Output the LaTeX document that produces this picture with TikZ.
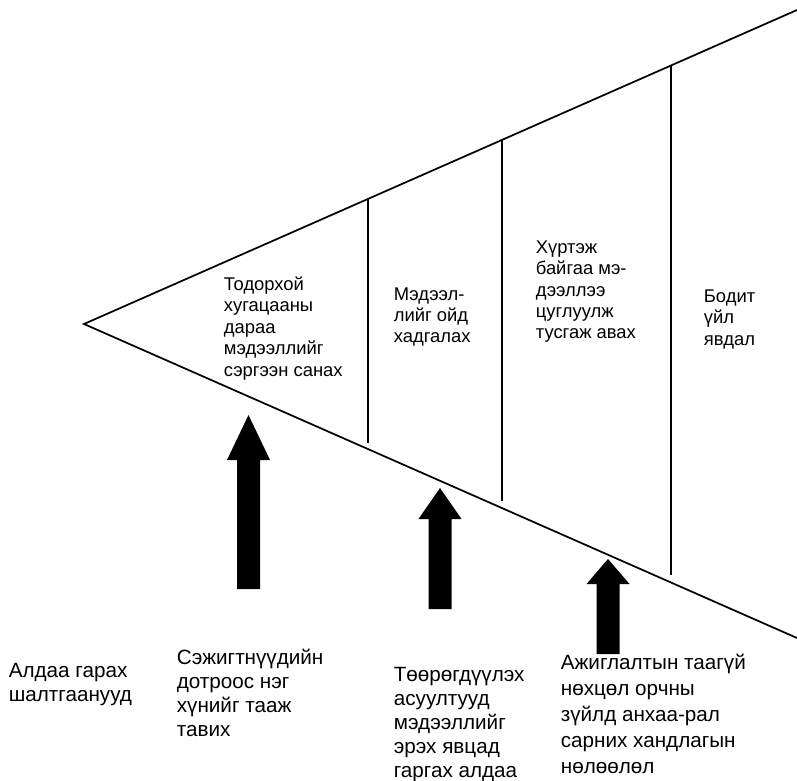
\documentclass[tikz,border=0pt]{standalone}
\usepackage{fontspec}
\setmainfont{Liberation Sans}
\usetikzlibrary{calc}
\tikzset{>=latex,
    stagetext/.style={anchor=base west,inner sep=0pt,align=left,font=\fontsize{13.8}{16}\selectfont},
    causetext/.style={anchor=base west,inner sep=0pt,align=left,font=\fontsize{15.5}{18}\selectfont}}
% block arrow: centre x, tip y, head base y, foot y
\newcommand\blockarrow[4]{
    \fill (#1-21.5,#3) -- (#1,#2) -- (#1+21.5,#3) -- (#1+11.5,#3) --
        (#1+11.5,#4) -- (#1-11.5,#4) -- (#1-11.5,#3) -- cycle;
}
\begin{document}
\begin{tikzpicture}[x=0.75pt,y=-0.75pt,line width=1.3pt]
            \useasboundingbox (0,0) rectangle (797,781);
            \coordinate (apex) at (84,324);
            \coordinate (top)  at (797,10);
            \coordinate (bot)  at (797,638);
            \draw (top) -- (apex) -- (bot);
            % dividers
            \draw (368,199) -- (368,443);
            \draw (502,140) -- (502,501);
            \draw (671,65.5) -- (671,575);
            \blockarrow{248.5}{415}{460}{589}
            \blockarrow{440}{488}{519}{609}
            \blockarrow{608}{559}{584}{654}
            % base = last line
            \node[stagetext] (recall)  at (223,376) {Тодорхой\\хугацааны\\дараа\\мэдээллийг\\сэргээн санах};
            \node[stagetext] (store)   at (393,343) {Мэдээл-\\лийг ойд\\хадгалах};
            \node[stagetext] (collect) at (535,339) {Хүртэж\\байгаа мэ-\\дээллээ\\цуглуулж\\тусгаж авах};
            \node[stagetext] (event)   at (703,345) {Бодит\\үйл\\явдал};
            \node[causetext] (causes)  at (8,701)   {Алдаа гарах\\шалтгаанууд};
            \node[causetext] (guess)   at (176,736) {Сэжигтнүүдийн\\дотроос нэг\\хүнийг тааж\\тавих};
            \node[causetext] (mislead) at (393,777) {Төөрөгдүүлэх\\асуултууд\\мэдээллийг\\эрэх явцад\\гаргах алдаа};
            \node[causetext,font=\fontsize{15.5}{19.5}\selectfont] (attend) at (560,773)
                {Ажиглалтын таагүй\\нөхцөл орчны\\зүйлд анхаа-рал\\сарних хандлагын\\нөлөөлөл};
        \end{tikzpicture}
\end{document}
